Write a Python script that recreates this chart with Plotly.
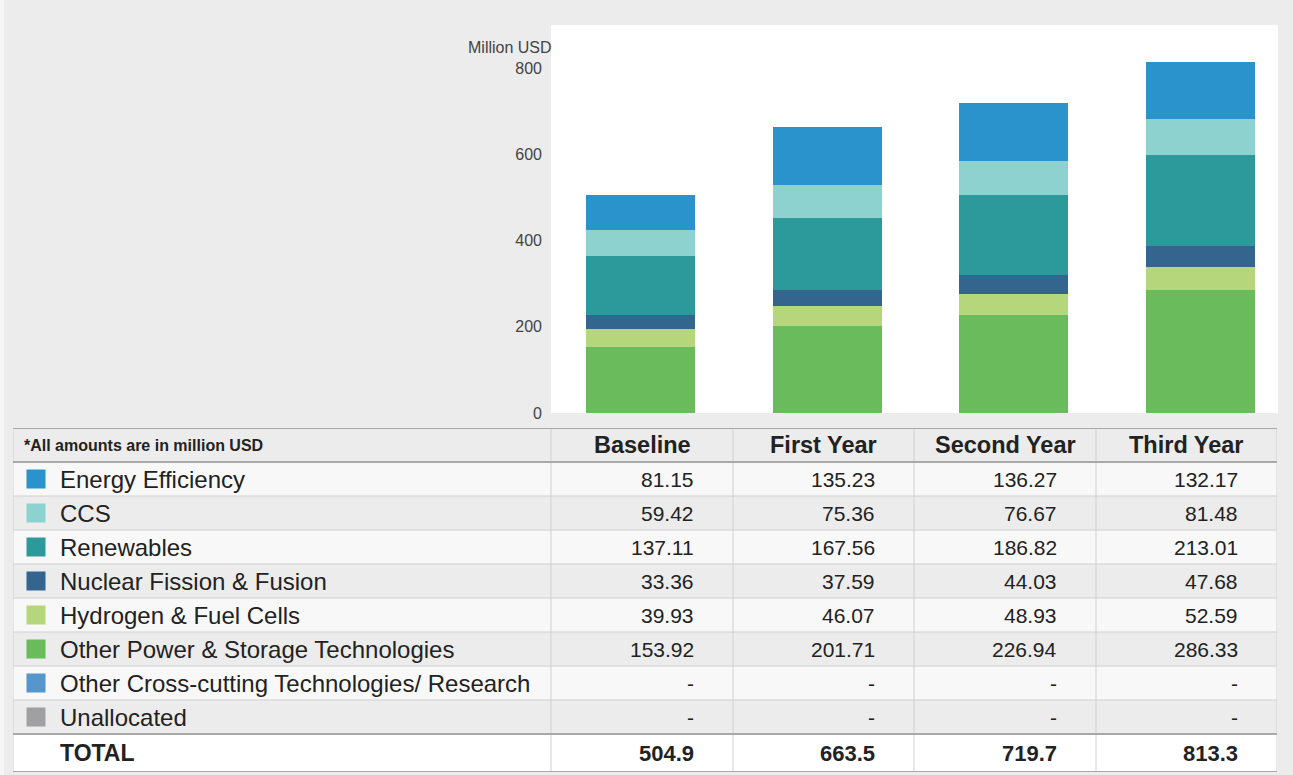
import plotly.graph_objects as go

# ---------------- data ----------------
categories = ["Baseline", "First Year", "Second Year", "Third Year"]
series_names = [
    "Energy Efficiency",
    "CCS",
    "Renewables",
    "Nuclear Fission & Fusion",
    "Hydrogen & Fuel Cells",
    "Other Power & Storage Technologies",
    "Other Cross-cutting Technologies/ Research",
    "Unallocated",
]
energy_efficiency = [81.15, 135.23, 136.27, 132.17]
ccs = [59.42, 75.36, 76.67, 81.48]
renewables = [137.11, 167.56, 186.82, 213.01]
nuclear = [33.36, 37.59, 44.03, 47.68]
hydrogen = [39.93, 46.07, 48.93, 52.59]
other_power = [153.92, 201.71, 226.94, 286.33]
other_cross = [None, None, None, None]
unallocated = [None, None, None, None]
totals = [504.9, 663.5, 719.7, 813.3]
y_ticks = [0, 200, 400, 600, 800]
table_note = "*All amounts are in million USD"
total_label = "TOTAL"
axis_title = "Million USD"

series_values = [energy_efficiency, ccs, renewables, nuclear, hydrogen,
                 other_power, other_cross, unallocated]
series_colors = ["#2a93cc", "#8ed2cf", "#2c9a9b", "#34658f", "#b6d67c",
                 "#69bb5c", "#5596cc", "#a0a0a3"]

# ---------------- layout geometry (pixels) ----------------
W, H = 1293, 775
plot_left, plot_right, plot_top, plot_bottom = 551, 1278, 25, 413
tbl_left, tbl_right, tbl_top = 13, 1277, 428
hdr_h, row_h, tot_h = 34, 34, 38
n_rows = len(series_names)
body_bottom = hdr_h + row_h * n_rows           # table-local units (px)
tbl_height = body_bottom + tot_h
col_widths = [538, 182, 181, 182, 181]
col_edges = [0]
for w_ in col_widths:
    col_edges.append(col_edges[-1] + w_)
num_right_pad = 37
label_x = 45
swatch_x = 23


def px_x(p):
    return p / W


def px_y(p):
    return 1 - p / H


FONT = "Liberation Sans, Arial, Helvetica, sans-serif"
TXT = "#222222"
fig = go.Figure()

# ---------------- stacked bars (bottom-up) ----------------
stack_order = [5, 4, 3, 2, 1, 0]
for i in stack_order:
    fig.add_trace(go.Bar(
        x=categories, y=series_values[i], name=series_names[i],
        marker=dict(color=series_colors[i], line=dict(width=0)),
        showlegend=False, hoverinfo="x+y+name",
    ))

# ---------------- data table (drawn on its own hidden axes) ----------------
row_centers = [hdr_h + row_h * r + row_h / 2 for r in range(n_rows)]
hdr_center = hdr_h / 2
tot_center = body_bottom + tot_h / 2

# thin light strip on the far left edge of the page
fig.add_shape(type="rect", xref="paper", yref="paper", layer="below",
              x0=0, x1=px_x(4), y0=0, y1=1, fillcolor="#f5f5f5", line=dict(width=0))

# row fills
for r in range(n_rows):
    fig.add_shape(type="rect", xref="x3", yref="y3", layer="below",
                  x0=col_edges[0], x1=col_edges[-1],
                  y0=hdr_h + row_h * r, y1=hdr_h + row_h * (r + 1),
                  fillcolor="#f8f8f8" if r % 2 == 0 else "#ececec", line=dict(width=0))
fig.add_shape(type="rect", xref="x3", yref="y3", layer="below",
              x0=col_edges[0], x1=col_edges[-1], y0=0, y1=hdr_h,
              fillcolor="#ececec", line=dict(width=0))
fig.add_shape(type="rect", xref="x3", yref="y3", layer="below",
              x0=col_edges[0], x1=col_edges[-1], y0=body_bottom, y1=tbl_height,
              fillcolor="#ffffff", line=dict(width=0))

# thin grid lines
for r in range(1, n_rows):
    yy = hdr_h + row_h * r
    fig.add_shape(type="line", xref="x3", yref="y3", layer="below",
                  x0=col_edges[0], x1=col_edges[-1], y0=yy, y1=yy,
                  line=dict(color="#d0d0d0", width=1))
for xx in col_edges:
    fig.add_shape(type="line", xref="x3", yref="y3", layer="below",
                  x0=xx, x1=xx, y0=0, y1=tbl_height,
                  line=dict(color="#d0d0d0", width=1))
# thick separators
for yy in [0, hdr_h, body_bottom, tbl_height]:
    fig.add_shape(type="line", xref="x3", yref="y3", layer="below",
                  x0=col_edges[0], x1=col_edges[-1], y0=yy, y1=yy,
                  line=dict(color="#a9a9a9", width=2))

# legend swatches
fig.add_trace(go.Scatter(
    x=[swatch_x] * n_rows, y=row_centers, xaxis="x3", yaxis="y3",
    mode="markers", marker=dict(symbol="square", size=19, color=series_colors,
                                line=dict(width=0)),
    showlegend=False, hoverinfo="skip",
))

# header texts
fig.add_annotation(text=f"<b>{table_note}</b>", xref="x3", yref="y3",
                   x=9, y=hdr_center, xanchor="left", yanchor="middle",
                   showarrow=False, font=dict(family=FONT, size=16, color=TXT))
for c, cat in enumerate(categories):
    fig.add_annotation(text=f"<b>{cat}</b>", xref="x3", yref="y3",
                       x=(col_edges[c + 1] + col_edges[c + 2]) / 2, y=hdr_center,
                       xanchor="center", yanchor="middle", showarrow=False,
                       font=dict(family=FONT, size=23.5, color=TXT))

# body texts
for r, name in enumerate(series_names):
    fig.add_annotation(text=name, xref="x3", yref="y3",
                       x=label_x, y=row_centers[r], xanchor="left", yanchor="middle",
                       showarrow=False, font=dict(family=FONT, size=24, color=TXT))
    for c in range(len(categories)):
        v = series_values[r][c]
        fig.add_annotation(text="-" if v is None else f"{v:.2f}", xref="x3", yref="y3",
                           x=col_edges[c + 2] - num_right_pad, y=row_centers[r],
                           xanchor="right", yanchor="middle", showarrow=False,
                           font=dict(family=FONT, size=21, color=TXT))

# total row
fig.add_annotation(text=f"<b>{total_label}</b>", xref="x3", yref="y3",
                   x=label_x, y=tot_center, xanchor="left", yanchor="middle",
                   showarrow=False, font=dict(family=FONT, size=23, color=TXT))
for c, t in enumerate(totals):
    fig.add_annotation(text=f"<b>{t:.1f}</b>", xref="x3", yref="y3",
                       x=col_edges[c + 2] - num_right_pad, y=tot_center,
                       xanchor="right", yanchor="middle", showarrow=False,
                       font=dict(family=FONT, size=22, color=TXT))

# axis unit label
fig.add_annotation(
    text=axis_title, xref="paper", yref="paper",
    x=px_x(plot_left), y=px_y(47), xanchor="right", yanchor="middle", xshift=3,
    showarrow=False, font=dict(family=FONT, size=16, color="#444444"),
)

fig.update_layout(
    width=W, height=H,
    margin=dict(l=0, r=0, t=0, b=0),
    paper_bgcolor="#ececec",
    plot_bgcolor="#ffffff",
    barmode="stack",
    bargap=0.416,
    font=dict(family=FONT, color="#444444"),
    hovermode="closest",
    xaxis=dict(
        domain=[px_x(plot_left), px_x(plot_right)],
        range=[-0.48, 3.415],
        showticklabels=False, showgrid=False, zeroline=False, ticks="",
        fixedrange=True, automargin=False,
    ),
    yaxis=dict(
        domain=[px_y(plot_bottom), px_y(plot_top)],
        range=[0, 900],
        tickvals=y_ticks,
        showgrid=False, zeroline=False, ticks="",
        ticklabelstandoff=8,
        tickfont=dict(family=FONT, size=16, color="#444444"),
        fixedrange=True, automargin=False,
    ),
    xaxis3=dict(
        domain=[px_x(tbl_left), px_x(tbl_right)],
        range=[col_edges[0], col_edges[-1]],
        visible=False, fixedrange=True, automargin=False,
    ),
    yaxis3=dict(
        domain=[px_y(tbl_top + tbl_height), px_y(tbl_top)],
        range=[tbl_height, 0],
        visible=False, fixedrange=True, automargin=False,
    ),
)

fig.write_html("out.html", config={"displayModeBar": False},
               post_script="document.body.style.margin='0';")
